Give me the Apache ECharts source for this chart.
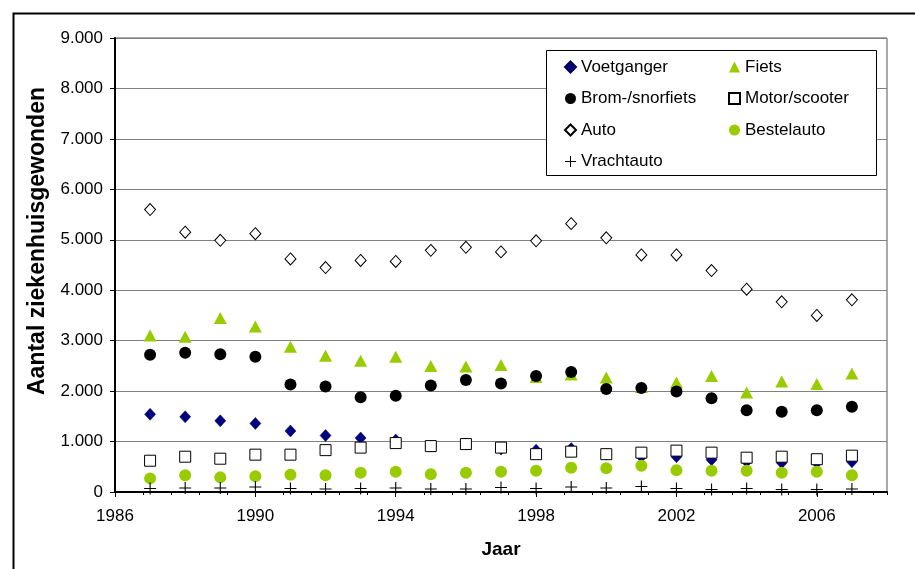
<!DOCTYPE html>
<html>
<head>
<meta charset="utf-8">
<script src="https://cdn.jsdelivr.net/npm/echarts@6/dist/echarts.min.js"></script>
<style>
html,body{margin:0;padding:0;background:#fff;}
#c{width:915px;height:569px;}
</style>
</head>
<body>
<div id="c"></div>
<script>
const years = [1987,1988,1989,1990,1991,1992,1993,1994,1995,1996,1997,1998,1999,2000,2001,2002,2003,2004,2005,2006,2007];
const voetganger = [1540,1490,1410,1360,1210,1120,1070,1030,910,950,850,830,860,750,700,700,640,600,580,580,600];
const fiets = [3100,3080,3450,3280,2880,2700,2600,2680,2500,2490,2520,2280,2330,2270,2080,2170,2300,1970,2190,2140,2350];
const brom = [2720,2760,2730,2680,2130,2090,1880,1910,2110,2220,2150,2300,2380,2040,2060,1990,1860,1620,1590,1620,1690];
const motor = [620,700,660,740,740,830,880,970,910,950,880,750,800,750,780,820,780,680,700,650,720];
const auto = [5600,5150,4990,5120,4620,4450,4590,4570,4790,4850,4760,4980,5320,5040,4700,4700,4390,4020,3770,3500,3810];
const bestelauto = [270,330,290,310,340,330,380,400,350,380,400,420,480,470,520,430,420,420,380,400,330];
const vrachtauto = [70,80,80,100,70,60,70,80,60,60,90,70,100,80,110,70,50,70,50,50,60];
const seriesNames = ['Voetganger','Fiets','Brom-/snorfiets','Motor/scooter','Auto','Bestelauto','Vrachtauto'];
const yTitle = 'Aantal ziekenhuisgewonden';
const xTitle = 'Jaar';

const FONT = '"Liberation Sans", Arial, sans-serif';
const pair = arr => years.map((y, i) => [y, arr[i]]);
const plusPath = 'path://M5.45,0h1.1v12h-1.1zM0,5.45h12v1.1h-12z';

function fmt(v){ return String(v).replace(/\B(?=(\d{3})+(?!\d))/g, '.'); }

const styles = {
  'Voetganger': {symbol:'diamond', symbolSize:[11,12], itemStyle:{color:'#000080', borderColor:'#000050', borderWidth:0.5, opacity:1}},
  'Fiets': {symbol:'triangle', symbolSize:[13,12], itemStyle:{color:'#99CC00', opacity:1}},
  'Brom-/snorfiets': {symbol:'circle', symbolSize:12, itemStyle:{color:'#000000', opacity:1}},
  'Motor/scooter': {symbol:'rect', symbolSize:11, itemStyle:{color:'#ffffff', borderColor:'#000', borderWidth:1, opacity:1}},
  'Auto': {symbol:'diamond', symbolSize:[11,12], itemStyle:{color:'#ffffff', borderColor:'#000', borderWidth:1, opacity:1}},
  'Bestelauto': {symbol:'circle', symbolSize:12, itemStyle:{color:'#99CC00', opacity:1}},
  'Vrachtauto': {symbol:plusPath, symbolSize:12, itemStyle:{color:'#000000', opacity:1}}
};
const dataMap = {
  'Voetganger': voetganger, 'Fiets': fiets, 'Brom-/snorfiets': brom, 'Motor/scooter': motor,
  'Auto': auto, 'Bestelauto': bestelauto, 'Vrachtauto': vrachtauto
};

const series = seriesNames.map(n => Object.assign({
  name: n, type: 'scatter', data: pair(dataMap[n]), xAxisIndex: 0, yAxisIndex: 0,
  emphasis: {disabled: true}
}, styles[n]));

const legendBase = {
  orient: 'vertical', itemWidth: 11, itemHeight: 11, itemGap: 13.5, z: 10,
  selectedMode: false, padding: 0,
  textStyle: {fontFamily: FONT, fontSize: 17, color: '#000', lineHeight: 18}
};

const chart = echarts.init(document.getElementById('c'), null, {renderer: 'canvas'});
chart.setOption({
  animation: false,
  backgroundColor: '#ffffff',
  grid: {left: 115, right: 28, top: 38, bottom: 77, show: true, borderColor: '#555', borderWidth: 1, backgroundColor: 'transparent'},
  legend: [
    Object.assign({}, legendBase, {left: 564, top: 58, data: ['Voetganger','Brom-/snorfiets','Auto','Vrachtauto']}),
    Object.assign({}, legendBase, {left: 728, top: 58, data: ['Fiets','Motor/scooter','Bestelauto']})
  ],
  xAxis: [{
    type: 'value', min: 1986, max: 2008, interval: 4, position: 'bottom',
    name: xTitle, nameLocation: 'middle', nameGap: 48,
    nameTextStyle: {fontFamily: FONT, fontSize: 19, fontWeight: 'bold', color: '#000'},
    axisLine: {show: true, onZero: false, lineStyle: {color: '#000', width: 2}},
    axisTick: {show: true, length: 5, inside: false, lineStyle: {color: '#000', width: 1}},
    axisLabel: {fontFamily: FONT, fontSize: 17, color: '#000', margin: 16, showMaxLabel: false,
      formatter: v => (v === 2008 ? '' : String(v))},
    splitLine: {show: false}
  }, {
    type: 'value', min: 1986, max: 2008, interval: 0.8, position: 'bottom',
    axisLine: {show: false},
    axisTick: {show: true, length: 3, inside: false, lineStyle: {color: '#000', width: 1}},
    axisLabel: {show: false},
    splitLine: {show: false}
  }],
  yAxis: {
    type: 'value', min: 0, max: 9000, interval: 1000,
    name: yTitle, nameLocation: 'middle', nameGap: 65, nameRotate: 90,
    nameTextStyle: {fontFamily: FONT, fontSize: 23, fontWeight: 'bold', color: '#000', padding: [0, 0, 0, 48]},
    axisLine: {show: true, lineStyle: {color: '#000', width: 2}},
    axisTick: {show: true, length: 5, lineStyle: {color: '#000', width: 1}},
    axisLabel: {fontFamily: FONT, fontSize: 17, color: '#000', margin: 12, formatter: v => fmt(v)},
    splitLine: {show: true, lineStyle: {color: '#808080', width: 1}}
  },
  graphic: [
    {type: 'rect', left: 11, top: 11, z: 100, silent: true,
     shape: {x: 0, y: 0, width: 1000, height: 1000},
     style: {fill: 'none', stroke: '#000', lineWidth: 2}},
    {type: 'rect', left: 546, top: 50, z: 5, silent: true,
     shape: {x: 0, y: 0, width: 330, height: 125},
     style: {fill: '#fff', stroke: '#000', lineWidth: 1}}
  ],
  series: series
});
</script>
</body>
</html>
